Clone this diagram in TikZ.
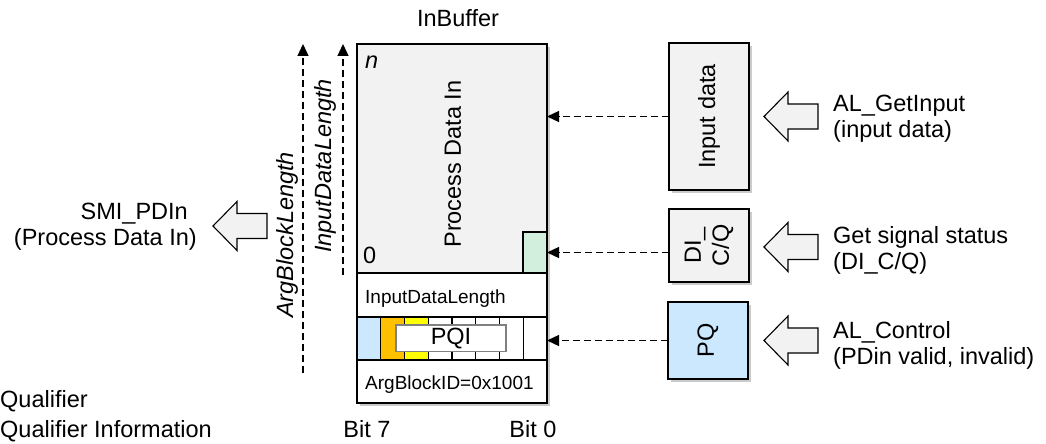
\documentclass[tikz,border=0pt]{standalone}
\usepackage{fontspec}
\setmainfont{Liberation Sans}
\usetikzlibrary{arrows.meta,positioning,shadows}
\definecolor{boxgray}{HTML}{F2F2F2}
\definecolor{pqblue}{HTML}{CCE8FF}
\definecolor{sqgreen}{HTML}{D2EEDD}
\definecolor{bitorange}{HTML}{FFC000}
\definecolor{bityellow}{HTML}{FFFF00}

\tikzset{
  pics/hollowarr/.style={code={
    \draw[hollow] (0,0) -- (24,-24.5) -- (24,-12.5) -- (54,-12.5) -- (54,12.5) -- (24,12.5) -- (24,24.5) -- cycle;
  }}
}

\begin{document}
\begin{tikzpicture}[x=1pt,y=-1pt,
  txt/.style={font=\fontsize{23.5}{26}\selectfont,inner sep=0pt},
  small/.style={font=\fontsize{19}{22}\selectfont,inner sep=0pt},
  cell/.style={draw,line width=1.2pt,inner sep=0pt,outer sep=0pt},
  shbox/.style={cell,drop shadow={shadow xshift=3pt,shadow yshift=-3pt,fill=black!45,opacity=0.45}},
  darr/.style={-{Triangle[length=12pt,width=11pt]},dash pattern=on 7pt off 4pt,line width=1.3pt},
  hollow/.style={draw,line width=1.1pt,fill=boxgray,line join=miter}
]
\useasboundingbox (0,0) rectangle (1046,444);

% the InBuffer block
\node[shbox,fill=white,minimum width=190pt,minimum height=359pt] (buf) at (452,223.5) {};
\node[cell,fill=boxgray,minimum width=190pt,minimum height=229pt,anchor=north] (pdin) at (buf.north) {};
\node[cell,minimum width=190pt,minimum height=44pt,anchor=north] (idl) at (pdin.south) {};
\node[cell,minimum width=190pt,minimum height=43pt,anchor=north] (bits) at (idl.south) {};
\node[cell,minimum width=190pt,minimum height=43pt,anchor=north] (abid) at (bits.south) {};
\foreach \c [count=\i from 0] in {pqblue,bitorange,bityellow,white,white,white,white,white}
  \node[cell,fill=\c,minimum width=23.75pt,minimum height=43pt,anchor=north west] (bit\i) at ([xshift=\i*23.75pt]bits.north west) {};
\node[cell,fill=sqgreen,minimum width=24pt,minimum height=41pt,anchor=south east] (sq) at (pdin.south east) {};
\node[txt,draw=black!50,line width=1.3pt,fill=white,minimum width=110pt,minimum height=26.5pt] (pqi) at (451,338.3) {PQI};

\node[txt,anchor=base] (inbuf) at (458,27) {InBuffer};
\node[txt,anchor=base west] (nlab) at (365,68) {\itshape n};
\node[txt,anchor=base west] (zlab) at (363,263) {0};
\node[txt,rotate=90] (pdtxt) at (453,164) {Process Data In};
\node[small,anchor=base west] (idltxt) at (365,303) {InputDataLength};
\node[small,anchor=base west] (abidtxt) at (365,389) {ArgBlockID=0x1001};
\node[txt,anchor=base] (bit7) at (367,437) {Bit 7};
\node[txt,anchor=base] (bit0) at (533,437) {Bit 0};

% length arrows
\coordinate (ablbot) at (303,373);
\coordinate (idlbot) at (343,275);
\draw[darr] (ablbot) -- (ablbot |- buf.north);
\draw[darr] (idlbot) -- (idlbot |- buf.north);
\node[txt,rotate=90] (abl) at (287,235) {\itshape ArgBlockLength};
\node[txt,rotate=90] (idllab) at (325,166) {\itshape InputDataLength};

% sources on the right
\node[shbox,fill=boxgray,minimum width=80pt,minimum height=147pt] (inbox) at (709,116.5) {};
\node[shbox,fill=boxgray,minimum width=80pt,minimum height=73pt] (dibox) at (709,245.5) {};
\node[shbox,fill=pqblue,minimum width=80pt,minimum height=77pt] (pqbox) at (708,340.5) {};
\node[txt,rotate=90] (intxt) at (inbox) {Input data};
\node[txt,rotate=90,align=center,font=\fontsize{23.5}{28}\selectfont] (ditxt) at (dibox) {DI\_\\C/Q};
\node[txt,rotate=90] (pqtxt) at (pqbox) {PQ};

\draw[darr] (inbox.west) -- (inbox.west -| buf.east);
\draw[darr] (dibox.west |- sq.east) -- (sq.east);
\draw[darr] (pqbox.west) -- (pqbox.west -| buf.east);

\pic (getarr) at (764,116.5) {hollowarr};
\pic (sigarr) at (764,247) {hollowarr};
\pic (ctlarr) at (764,340.5) {hollowarr};
\pic (smiarr) at (213,226) {hollowarr};

\node[txt,anchor=west,align=left] (getin) at (833,119) {AL\_GetInput\\(input data)};
\node[txt,anchor=west,align=left] (getsig) at (833,250) {Get signal status\\(DI\_C/Q)};
\node[txt,anchor=west,align=left] (alctl) at (833,345) {AL\_Control\\(PDin valid, invalid)};
\node[txt,anchor=east,align=right] (smi) at (197,227) {SMI\_PDIn\hspace*{9pt}\\(Process Data In)};

\node[txt,anchor=base west] (qual) at (0,407) {Qualifier};
\node[txt,anchor=base west] (qualinfo) at (0,437) {Qualifier Information};
\end{tikzpicture}
\end{document}
